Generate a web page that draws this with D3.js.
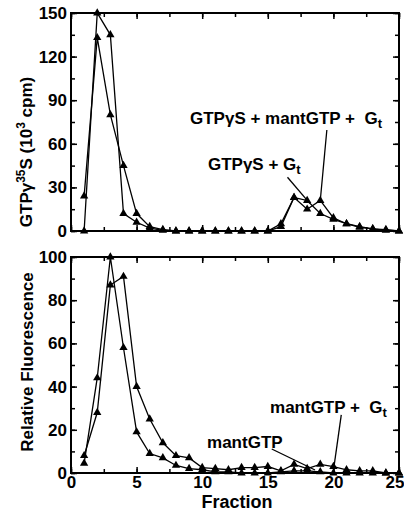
<!DOCTYPE html>
<html>
<head>
<meta charset="utf-8">
<script src="https://cdn.jsdelivr.net/npm/d3@7"></script>
<style>
  body { margin: 0; background: #fff; }
  svg { display: block; font-family: "Liberation Sans", Arial, sans-serif; font-weight: bold; }
</style>
</head>
<body>
<svg id="chart" width="404" height="512"></svg>
<script>
// fractions collected from the column
var fractions = [1,2,3,4,5,6,7,8,9,10,11,12,13,14,15,16,17,18,19,20,21,22,23,24,25];

// top panel: GTPgammaS bound (10^3 cpm)
var gtpsGt     = [0, 150, 135, 12, 6, 2, 0.5, 0, 0, 0, 0, 0, 0, 0, 0, 3, 23, 21, 12, 8, 5, 2.5, 1.5, 0.5, 0];
var gtpsMantGt = [24, 133, 80, 45, 12, 3, 1, 0, 0, 0, 0, 0, 0, 0, 0, 5, 23, 15, 21, 9, 5, 3, 1.5, 1, 0];

// bottom panel: relative fluorescence
var mantGt  = [8, 28, 87, 91, 40, 25, 14, 8, 7, 2.5, 2, 1.5, 2.5, 2.5, 3, 1, 4, 2, 4, 3, 1.5, 1, 1, 0, 0];
var mantGtp = [4.5, 44, 100, 58, 19, 9, 7, 3.5, 2, 1.5, 0.5, 0.5, 0, 0, 0, 0.5, 1, 1, 0.5, 0, 0, 0, 0, 0, 0];

var xTicks = [0, 5, 10, 15, 20, 25];
var topTicks = [0, 30, 60, 90, 120, 150];
var botTicks = [0, 20, 40, 60, 80, 100];

var svg = d3.select("#chart");
var left = 71, right = 399;

var x = d3.scaleLinear().domain([0, 25]).range([left, right]);
var yTop = d3.scaleLinear().domain([0, 150]).range([231, 13]);
var yBot = d3.scaleLinear().domain([0, 100]).range([473, 257]);

function panel(y, ticks, minorStep, showX) {
  var g = svg.append("g");
  var y0 = y.range()[0], y1 = y.range()[1];
  var minorY = d3.range(0, y.domain()[1] + 0.01, minorStep);
  var minorX = d3.range(0, 25.01, 2.5);

  // minor ticks on all four sides (inward)
  g.append("g").attr("transform", "translate(0," + y0 + ")")
    .call(d3.axisBottom(x).tickValues(minorX).tickSizeInner(-4).tickSizeOuter(0).tickFormat(""));
  g.append("g").attr("transform", "translate(0," + y1 + ")")
    .call(d3.axisTop(x).tickValues(minorX).tickSizeInner(-4).tickSizeOuter(0).tickFormat(""));
  g.append("g").attr("transform", "translate(" + left + ",0)")
    .call(d3.axisLeft(y).tickValues(minorY).tickSizeInner(-4).tickSizeOuter(0).tickFormat(""));
  g.append("g").attr("transform", "translate(" + right + ",0)")
    .call(d3.axisRight(y).tickValues(minorY).tickSizeInner(-4).tickSizeOuter(0).tickFormat(""));

  // major ticks
  var xb = g.append("g").attr("transform", "translate(0," + y0 + ")")
    .call(d3.axisBottom(x).tickValues(xTicks).tickSizeInner(-6).tickSizeOuter(0).tickPadding(3)
      .tickFormat(showX ? d3.format("d") : ""));
  g.append("g").attr("transform", "translate(0," + y1 + ")")
    .call(d3.axisTop(x).tickValues(xTicks).tickSizeInner(-6).tickSizeOuter(0).tickFormat(""));
  g.append("g").attr("transform", "translate(" + left + ",0)")
    .call(d3.axisLeft(y).tickValues(ticks).tickSizeInner(-6).tickSizeOuter(0).tickPadding(4));
  g.append("g").attr("transform", "translate(" + right + ",0)")
    .call(d3.axisRight(y).tickValues(ticks).tickSizeInner(-6).tickSizeOuter(0).tickFormat(""));

  g.selectAll(".domain").remove();
  g.selectAll(".tick line").attr("stroke", "#000").attr("stroke-width", 1.5);
  g.selectAll(".tick text").attr("font-size", 17).attr("font-weight", "bold")
    .attr("font-family", "Liberation Sans, Arial, sans-serif").attr("fill", "#000");
  // last label sits at the page edge, keep it inside
  xb.selectAll(".tick text").filter(function (d) { return d === 25; })
    .attr("text-anchor", "end").attr("x", 5);

  g.append("rect")
    .attr("x", left).attr("y", y1)
    .attr("width", right - left).attr("height", y0 - y1)
    .attr("fill", "none").attr("stroke", "#000").attr("stroke-width", 2);
  return g;
}

function series(g, y, values) {
  var pts = fractions.map(function (f, i) { return [f, values[i]]; });
  var line = d3.line().x(function (d) { return x(d[0]); }).y(function (d) { return y(d[1]); });
  g.append("path").datum(pts)
    .attr("d", line).attr("fill", "none").attr("stroke", "#000").attr("stroke-width", 1.3);
  g.selectAll(null).data(pts).enter().append("path")
    .attr("d", d3.symbol().type(d3.symbolTriangle).size(30))
    .attr("transform", function (d) { return "translate(" + x(d[0]) + "," + y(d[1]) + ")"; })
    .attr("fill", "#000");
}

function pointer(g, y, a, b) {
  g.append("line")
    .attr("x1", x(a[0])).attr("y1", y(a[1]))
    .attr("x2", x(b[0])).attr("y2", y(b[1]))
    .attr("stroke", "#000").attr("stroke-width", 1.3);
}

function label(g, y, pos, main, sub) {
  var t = g.append("text").attr("x", x(pos[0])).attr("y", y(pos[1]))
    .attr("font-size", 17).attr("fill", "#000")
    .style("white-space", "pre");
  t.append("tspan").text(main);
  if (sub) t.append("tspan").attr("dy", 4).attr("font-size", 13).text(sub);
}

// ---- top panel
var gt = panel(yTop, topTicks, 15, false);
series(gt, yTop, gtpsGt);
series(gt, yTop, gtpsMantGt);
label(gt, yTop, [9.07, 73.6], "GTP\u03b3S + mantGTP +  G", "t");
label(gt, yTop, [10.44, 42], "GTP\u03b3S + G", "t");
pointer(gt, yTop, [19.5, 69.5], [19, 21]);
pointer(gt, yTop, [16.5, 37], [18.2, 19]);

var tt = svg.append("text")
  .attr("transform", "translate(32,152) rotate(-90)")
  .attr("text-anchor", "middle").attr("font-size", 17).attr("fill", "#000");
tt.append("tspan").text("GTP\u03b3");
tt.append("tspan").attr("dy", -7).attr("font-size", 12).text("35");
tt.append("tspan").attr("dy", 7).text("S (10");
tt.append("tspan").attr("dy", -7).attr("font-size", 12).text("3");
tt.append("tspan").attr("dy", 7).text(" cpm)");

// ---- bottom panel
var gb = panel(yBot, botTicks, 10, true);
series(gb, yBot, mantGt);
series(gb, yBot, mantGtp);
label(gb, yBot, [15.17, 27.8], "mantGTP +  G", "t");
label(gb, yBot, [10.37, 11.6], "mantGTP");
pointer(gb, yBot, [20.6, 26.9], [20.05, 3.2]);
pointer(gb, yBot, [15.3, 11.1], [18.6, 1.4]);

svg.append("text")
  .attr("transform", "translate(33,362) rotate(-90)")
  .attr("text-anchor", "middle").attr("font-size", 17).attr("fill", "#000")
  .text("Relative Fluorescence");

svg.append("text")
  .attr("x", 237).attr("y", 508)
  .attr("text-anchor", "middle").attr("font-size", 18).attr("fill", "#000")
  .text("Fraction");
</script>
</body>
</html>
